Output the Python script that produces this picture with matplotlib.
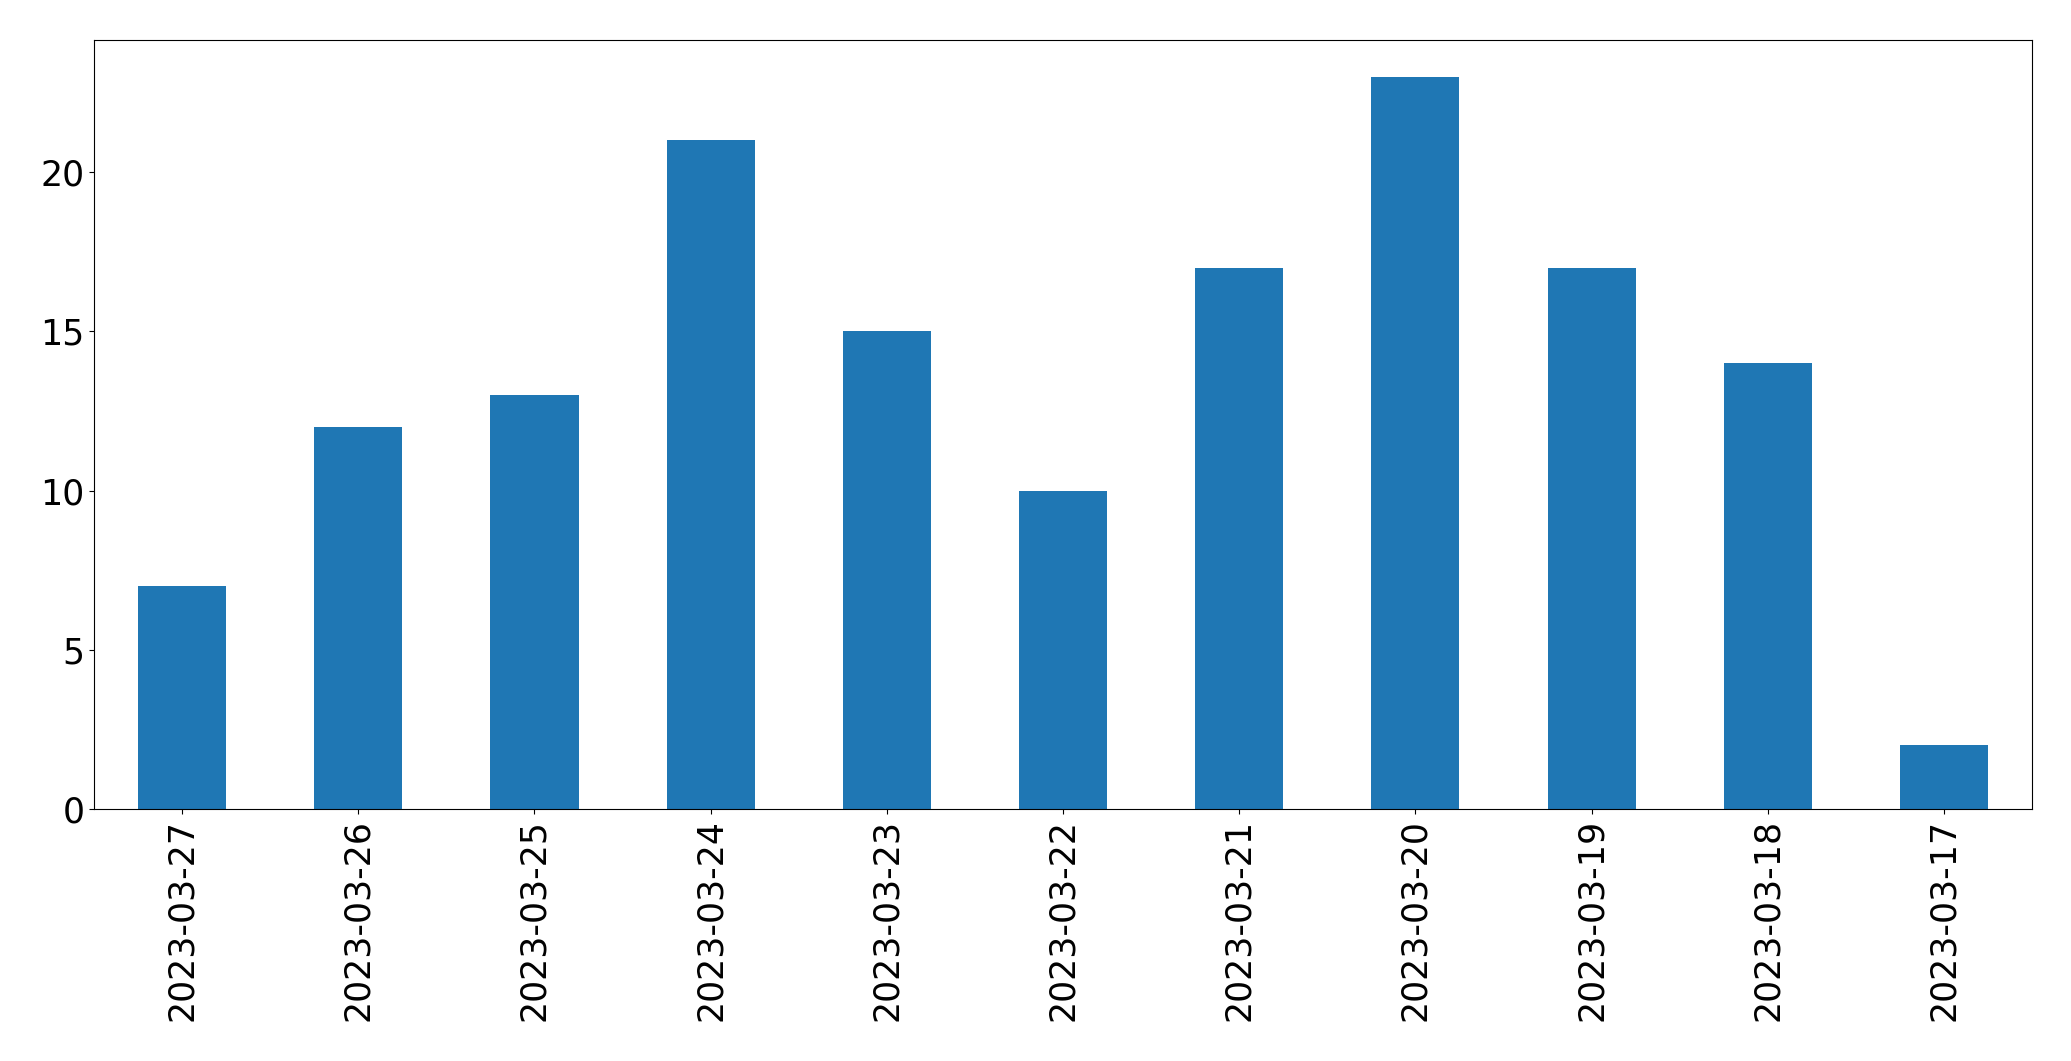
import numpy as np
import matplotlib
matplotlib.use("Agg")
import matplotlib.pyplot as plt

dates = ["2023-03-27", "2023-03-26", "2023-03-25", "2023-03-24", "2023-03-23", "2023-03-22",
         "2023-03-21", "2023-03-20", "2023-03-19", "2023-03-18", "2023-03-17"]
counts = [7, 12, 13, 21, 15, 10, 17, 23, 17, 14, 2]

fig = plt.figure(figsize=(20.71, 10.61), dpi=100)
ax = fig.add_axes([94 / 2071, 1 - 809 / 1061, (2032 - 94) / 2071, (809 - 40) / 1061])

x = np.arange(len(dates))
ax.bar(x, counts, width=0.5, color="#1f77b4")
ax.set_xlim(-0.5, len(dates) - 0.5)
ax.set_ylim(0, max(counts) * 1.05)
ax.set_xticks(x)
ax.set_xticklabels(dates, rotation=90)
ax.set_yticks([0, 5, 10, 15, 20])
ax.tick_params(labelsize=25)

fig.savefig("out.png", dpi=100)
